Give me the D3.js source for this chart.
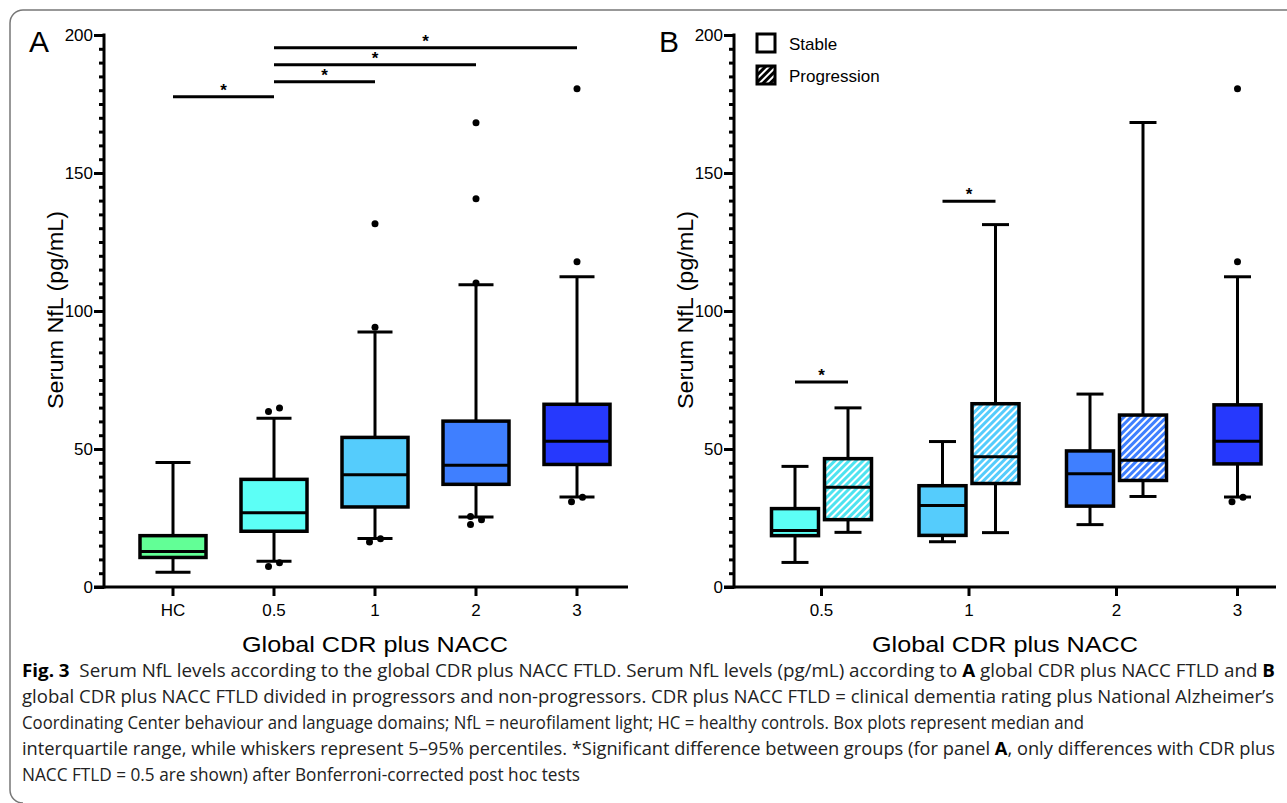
<!DOCTYPE html>
<html>
<head>
<meta charset="utf-8">
<script src="https://cdn.jsdelivr.net/npm/d3@7"></script>
<style>
  body { margin: 0; background: #fff; }
  text { font-family: "Liberation Sans", Arimo, Helvetica, Arial, sans-serif; fill: #000; }
  .caption text { font-family: "Open Sans", "Noto Sans", sans-serif; fill: #222; }
</style>
</head>
<body>
<script>
// ---- panel A data (pg/mL) ----
var groupsA = ["HC", "0.5", "1", "2", "3"];
var lowA  = [5.3, 9.3, 17.6, 25.4, 32.6];
var q1A   = [10.7, 20.2, 29.0, 37.2, 44.4];
var medA  = [12.9, 26.9, 40.7, 44.1, 52.8];
var q3A   = [18.6, 39.0, 54.2, 60.1, 66.2];
var highA = [45.1, 61.1, 92.4, 109.5, 112.4];
var outA  = [[], [63.6, 64.9, 7.4, 8.8], [131.6, 94.1, 16.3, 17.5],
             [168.2, 140.7, 110.1, 22.6, 24.4, 25.5], [180.5, 117.8, 30.9, 32.5]];
var colorA = ["#62ff96", "#5cfff6", "#55ccfc", "#3f7fff", "#2639fd"];
// significance brackets, panel A
var sigFromA = ["HC", "0.5", "0.5", "0.5"];
var sigToA   = ["0.5", "1", "2", "3"];
var sigLvlA  = [177.6, 183.1, 189.2, 195.4];

// ---- panel B data ----
var groupsB = ["0.5", "1", "2", "3"];
var boxGroupB = ["0.5", "0.5", "1", "1", "2", "2", "3"];
var boxCondB  = ["Stable", "Progression", "Stable", "Progression", "Stable", "Progression", "Stable"];
var lowB  = [8.9, 19.8, 16.4, 19.7, 22.6, 32.8, 32.6];
var q1B   = [18.6, 24.4, 18.7, 37.5, 29.3, 38.6, 44.6];
var medB  = [20.5, 36.1, 29.5, 47.2, 41.0, 45.9, 52.8];
var q3B   = [28.4, 46.5, 36.7, 66.4, 49.3, 62.3, 66.0];
var highB = [43.7, 64.9, 52.7, 131.3, 69.9, 168.3, 112.4];
var outB  = [[], [], [], [], [], [], [180.5, 117.8, 30.9, 32.5]];
var colorB = ["#5cfff6", "#4fe3f0", "#55ccfc", "#55ccfc", "#3f7fff", "#3f7fff", "#2639fd"];
var sigBoxesB = [[0, 1], [2, 3]];
var sigLvlB = [74.3, 139.8];

var legendItems = ["Stable", "Progression"];
var yTicks = d3.range(0, 201, 5);

var width = 1287, height = 803;

var svg = d3.select("body").append("svg")
    .attr("width", width)
    .attr("height", height);

var defs = svg.append("defs");
function hatch(id, color) {
    var p = defs.append("pattern")
        .attr("id", id)
        .attr("patternUnits", "userSpaceOnUse")
        .attr("width", 5).attr("height", 5)
        .attr("patternTransform", "rotate(45)");
    p.append("rect").attr("width", 5).attr("height", 5).attr("fill", "#fff");
    p.append("rect").attr("width", 3).attr("height", 5).attr("fill", color);
}

// figure frame
svg.append("path")
    .attr("d", "M1290,10 H23 A13,13 0 0 0 10,23 V790 A13,13 0 0 0 23,803")
    .attr("fill", "none")
    .attr("stroke", "#777")
    .attr("stroke-width", 1.5);

var yScale = d3.scaleLinear().domain([0, 200]).range([587, 35]);

function drawYAxis(x0, label, titleX) {
    var yAxis = d3.axisLeft(yScale)
        .tickValues(yTicks)
        .tickSize(10)
        .tickPadding(1)
        .tickFormat(function(d) { return d % 50 === 0 ? d : ""; });
    var g = svg.append("g")
        .attr("transform", "translate(" + x0 + ",0)")
        .call(yAxis);
    g.select(".domain").remove();
    g.selectAll(".tick line")
        .attr("stroke", "#000")
        .attr("stroke-width", 3)
        .attr("x2", function(d) { return d % 50 === 0 ? -10 : -5; });
    g.selectAll(".tick text")
        .style("font-family", null)
        .style("font-size", "17px")
        .attr("font-family", null)
        .attr("fill", "#000");
    g.append("line")
        .attr("x1", 0).attr("x2", 0)
        .attr("y1", yScale(0) + 1.5).attr("y2", yScale(200) - 1.5)
        .attr("stroke", "#000").attr("stroke-width", 3);

    svg.append("text")
        .attr("transform", "translate(" + titleX + ",310) rotate(-90)")
        .attr("text-anchor", "middle")
        .attr("textLength", 198)
        .attr("lengthAdjust", "spacingAndGlyphs")
        .style("font-size", "22px")
        .text("Serum NfL (pg/mL)");

    svg.append("text")
        .attr("x", x0 - 75).attr("y", 52)
        .style("font-size", "30px")
        .text(label);
}

function drawXAxis(x0, x1, ticks, titleX) {
    svg.append("line")
        .attr("x1", x0 - 10).attr("x2", x1)
        .attr("y1", yScale(0)).attr("y2", yScale(0))
        .attr("stroke", "#000").attr("stroke-width", 3);
    var t = svg.append("g").selectAll("g")
        .data(ticks)
        .enter().append("g")
        .attr("transform", function(d) { return "translate(" + d.x + "," + yScale(0) + ")"; });
    t.append("line")
        .attr("y1", 0).attr("y2", 9)
        .attr("stroke", "#000").attr("stroke-width", 3);
    t.append("text")
        .attr("y", 29)
        .attr("text-anchor", "middle")
        .style("font-size", "17px")
        .text(function(d) { return d.label; });
    svg.append("text")
        .attr("x", titleX - 133).attr("y", 652)
        .attr("textLength", 266)
        .attr("lengthAdjust", "spacingAndGlyphs")
        .style("font-size", "22px")
        .text("Global CDR plus NACC");
}

// spread dots that sit on top of each other: left, right, left...
function placeDots(vals) {
    var s = vals.slice().sort(d3.ascending);
    var clusters = [];
    s.forEach(function(v, i) {
        if (i > 0 && v - s[i - 1] < 3) clusters[clusters.length - 1].push(v);
        else clusters.push([v]);
    });
    var res = [];
    clusters.forEach(function(c) {
        c.forEach(function(v, j) {
            var dx = c.length === 1 ? 0 : (j % 2 === 0 ? -5.5 : 5.5);
            res.push({ v: v, dx: dx });
        });
    });
    return res;
}

function drawBoxes(boxes, boxW, capW) {
    var g = svg.append("g").selectAll("g")
        .data(boxes)
        .enter().append("g")
        .attr("transform", function(d) { return "translate(" + d.x + ",0)"; });

    g.append("line")
        .attr("y1", function(d) { return yScale(d.hi); })
        .attr("y2", function(d) { return yScale(d.lo); })
        .attr("stroke", "#000").attr("stroke-width", 3);
    g.append("line")
        .attr("x1", -capW / 2).attr("x2", capW / 2)
        .attr("y1", function(d) { return yScale(d.hi); })
        .attr("y2", function(d) { return yScale(d.hi); })
        .attr("stroke", "#000").attr("stroke-width", 3);
    g.append("line")
        .attr("x1", -capW / 2).attr("x2", capW / 2)
        .attr("y1", function(d) { return yScale(d.lo); })
        .attr("y2", function(d) { return yScale(d.lo); })
        .attr("stroke", "#000").attr("stroke-width", 3);
    g.append("rect")
        .attr("x", -boxW / 2)
        .attr("width", boxW)
        .attr("y", function(d) { return yScale(d.q3); })
        .attr("height", function(d) { return yScale(d.q1) - yScale(d.q3); })
        .attr("fill", function(d) { return d.fill; })
        .attr("stroke", "#000").attr("stroke-width", 3.5);
    g.append("line")
        .attr("x1", -boxW / 2).attr("x2", boxW / 2)
        .attr("y1", function(d) { return yScale(d.med); })
        .attr("y2", function(d) { return yScale(d.med); })
        .attr("stroke", "#000").attr("stroke-width", 3);
    g.selectAll("circle")
        .data(function(d) { return placeDots(d.out); })
        .enter().append("circle")
        .attr("cx", function(p) { return p.dx; })
        .attr("cy", function(p) { return yScale(p.v); })
        .attr("r", 3.5)
        .attr("fill", "#000");
}

function drawSig(x1, x2, v) {
    svg.append("line")
        .attr("x1", x1).attr("x2", x2)
        .attr("y1", yScale(v)).attr("y2", yScale(v))
        .attr("stroke", "#000").attr("stroke-width", 3);
    svg.append("text")
        .attr("x", (x1 + x2) / 2).attr("y", yScale(v) - 1)
        .attr("text-anchor", "middle")
        .style("font-size", "17px")
        .style("font-weight", "bold")
        .text("*");
}

// ================= Panel A =================
var xA = d3.scalePoint().domain(groupsA).range([173, 577]);

drawYAxis(104, "A", 63);
drawXAxis(104, 628, groupsA.map(function(g) { return { x: xA(g), label: g }; }), 375);

drawBoxes(groupsA.map(function(g, i) {
    return { x: xA(g), lo: lowA[i], q1: q1A[i], med: medA[i], q3: q3A[i], hi: highA[i],
             out: outA[i], fill: colorA[i] };
}), 66, 35);

sigLvlA.forEach(function(v, i) {
    drawSig(xA(sigFromA[i]), xA(sigToA[i]), v);
});

// ================= Panel B =================
// box slots: boxes within a group sit one slot apart, extra gap between groups
var groupGap = 0.783;
var slotB = boxGroupB.map(function(g, i) { return i + groupsB.indexOf(g) * groupGap; });
var xB = d3.scaleLinear().domain([0, 1]).range([795, 848]);

drawYAxis(734, "B", 693);
var ticksB = groupsB.map(function(g) {
    var s = slotB.filter(function(_, i) { return boxGroupB[i] === g; });
    return { x: xB(d3.mean(s)), label: g };
});
drawXAxis(734, 1276, ticksB, 1005);

drawBoxes(boxGroupB.map(function(g, i) {
    var fill = colorB[i];
    if (boxCondB[i] === "Progression") {
        hatch("hatchB" + i, colorB[i]);
        fill = "url(#hatchB" + i + ")";
    }
    return { x: xB(slotB[i]), lo: lowB[i], q1: q1B[i], med: medB[i], q3: q3B[i], hi: highB[i],
             out: outB[i], fill: fill };
}), 47, 27);

sigBoxesB.forEach(function(p, i) {
    drawSig(xB(slotB[p[0]]), xB(slotB[p[1]]), sigLvlB[i]);
});

// legend
hatch("hatchLegend", "#000");
var leg = svg.append("g").selectAll("g")
    .data(legendItems)
    .enter().append("g")
    .attr("transform", function(d, i) { return "translate(757," + (34 + i * 32) + ")"; });
leg.append("rect")
    .attr("width", 18).attr("height", 18)
    .attr("fill", function(d) { return d === "Stable" ? "#fff" : "url(#hatchLegend)"; })
    .attr("stroke", "#000").attr("stroke-width", 3);
leg.append("text")
    .attr("x", 32).attr("y", 16)
    .style("font-size", "17px")
    .text(function(d) { return d; });

// ================= Caption =================
var captionLines = [
    [["Fig. 3", true], ["  Serum NfL levels according to the global CDR plus NACC FTLD. Serum NfL levels (pg/mL) according to ", false], ["A", true], [" global CDR plus NACC FTLD and ", false], ["B", true]],
    [["global CDR plus NACC FTLD divided in progressors and non-progressors. CDR plus NACC FTLD = clinical dementia rating plus National Alzheimer\u2019s", false]],
    [["Coordinating Center behaviour and language domains; NfL = neurofilament light; HC = healthy controls. Box plots represent median and", false]],
    [["interquartile range, while whiskers represent 5\u201395% percentiles. *Significant difference between groups (for panel ", false], ["A", true], [", only differences with CDR plus", false]],
    [["NACC FTLD = 0.5 are shown) after Bonferroni-corrected post hoc tests", false]]
];
var captionWidths = [1253, 1252, 1062, 1253, 558];

var cap = svg.append("g").attr("class", "caption");
captionLines.forEach(function(line, i) {
    var t = cap.append("text")
        .attr("x", 22)
        .attr("y", 677 + i * 26)
        .attr("textLength", captionWidths[i])
        .attr("lengthAdjust", "spacingAndGlyphs")
        .style("font-size", "18px")
        .style("white-space", "pre");
    line.forEach(function(part) {
        t.append("tspan")
            .style("font-weight", part[1] ? "bold" : "normal")
            .attr("fill", part[1] ? "#000" : "#222")
            .text(part[0]);
    });
});
</script>
</body>
</html>
